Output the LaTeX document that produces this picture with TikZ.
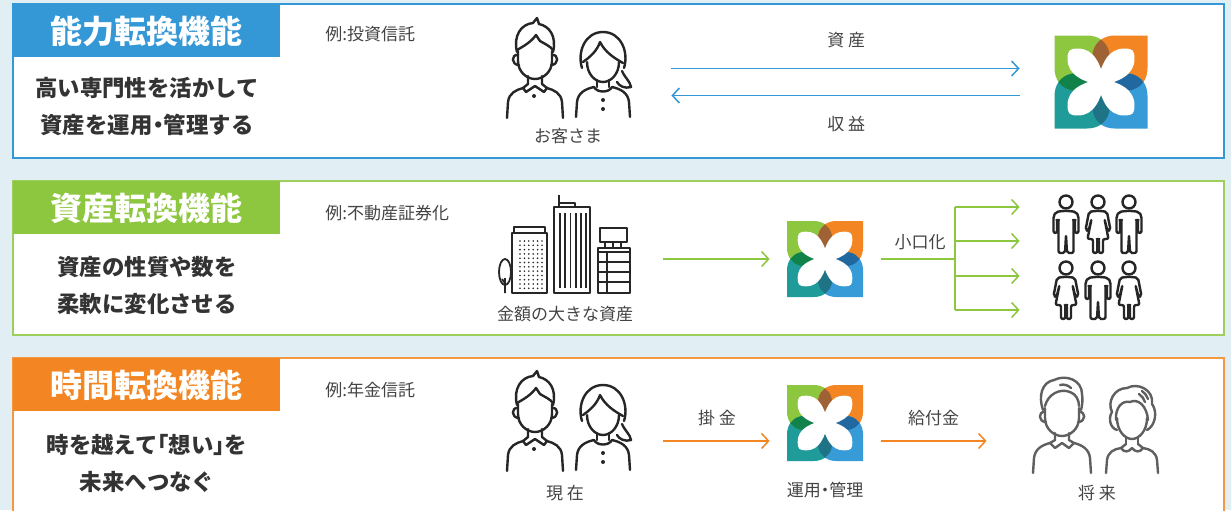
\documentclass[tikz,border=0pt]{standalone}
\usepackage{fontspec}
\setmainfont{Noto Sans CJK JP}
\usetikzlibrary{arrows.meta,positioning}
\definecolor{backdrop}{RGB}{225,238,243}
\definecolor{kblue}{RGB}{52,152,214}
\definecolor{kgreen}{RGB}{141,198,63}
\definecolor{korange}{RGB}{243,134,34}
\definecolor{leadtext}{RGB}{51,51,51}
\definecolor{labeltext}{RGB}{68,68,68}
\definecolor{ink}{RGB}{38,38,38}
\definecolor{inkgray}{RGB}{95,95,95}
\definecolor{leafgreen}{RGB}{141,198,63}
\definecolor{leaforange}{RGB}{243,134,34}
\definecolor{leafteal}{RGB}{31,156,153}
\definecolor{leafblue}{RGB}{55,155,215}
\definecolor{mixbrown}{RGB}{158,98,52}
\definecolor{mixgreen}{RGB}{18,130,75}
\definecolor{mixblue}{RGB}{34,104,160}
\definecolor{mixteal}{RGB}{30,115,135}

\tikzset{
  panel/.style={fill=white, line width=0.8pt},
  header/.style={anchor=north west, inner sep=0pt, minimum width=133.5pt, minimum height=26.5pt,
    text=white, font=\bfseries\fontsize{16pt}{18pt}\selectfont},
  lead/.style={align=center, text=leadtext, font=\bfseries\fontsize{11.2pt}{18.5pt}\selectfont},
  lbl/.style={inner sep=0pt, text=labeltext, font=\fontsize{8.5pt}{10pt}\selectfont},
  spot/.style={inner sep=0pt},
  flow/.style={line width=0.75pt, -{Straight Barb[length=3.5pt,width=7.5pt]}},
  icon/.style={line width=1.2pt, line cap=round, line join=round},
  figure/.style={draw=ink, fill=white, line width=1.2pt, line join=round},
}

% proportional width for brackets and middle dots
\newcommand{\tight}[1]{{\addfontfeatures{RawFeature=+palt}#1}}

% one leaf of the logo (top left), and the white petal cut out of it
\newcommand{\leafpath}{(-1,1) -- (-0.3,1) .. controls (0.2,1) and (0.35,0.45) .. (0,0) .. controls (-0.45,-0.35) and (-1,-0.2) .. (-1,0.3) -- cycle}
\newcommand{\holepath}{(-0.72,0.5) .. controls (-0.72,0.68) and (-0.68,0.72) .. (-0.5,0.72) .. controls (-0.15,0.72) and (0,0.4) .. (0.1,-0.1) .. controls (-0.4,0) and (-0.72,0.15) .. (-0.72,0.5) -- cycle}

\newcommand{\fundlogo}[2]{%
  \begin{scope}[shift={(#1)}, scale=#2, yscale=-1]
    \fill[leafgreen] \leafpath;
    \fill[leaforange, rotate=90] \leafpath;
    \fill[leafblue, rotate=180] \leafpath;
    \fill[leafteal, rotate=-90] \leafpath;
    % where two leaves overlap
    \begin{scope}\clip \leafpath; \fill[mixbrown, rotate=90] \leafpath; \end{scope}
    \begin{scope}\clip[rotate=90] \leafpath; \fill[mixblue, rotate=180] \leafpath; \end{scope}
    \begin{scope}\clip[rotate=180] \leafpath; \fill[mixteal, rotate=-90] \leafpath; \end{scope}
    \begin{scope}\clip[rotate=-90] \leafpath; \fill[mixgreen] \leafpath; \end{scope}
    \foreach \a in {0,90,180,270} \fill[white, rotate=\a] \holepath;
  \end{scope}}

% people, drawn around the middle of the face
\newcommand{\manicon}[2]{%
  \begin{scope}[shift={(#1)}, #2, icon]
    \draw (-18,-3) .. controls (-22,-19) and (-14,-31) .. (-2,-32) -- (2,-37) -- (4,-31) .. controls (14,-29) and (22,-19) .. (18,-3);
    \draw (-18,-5) .. controls (-11,-9) and (-4,-13) .. (1,-20) -- (5,-14) .. controls (10,-11) and (15,-9) .. (18,-5);
    \draw (-17,-4) -- (-17,6) .. controls (-17,17) and (-8,24) .. (0,24) .. controls (8,24) and (17,17) .. (17,6) -- (17,-4);
    \draw (-17,0) .. controls (-24,-1) and (-24,10) .. (-16,10);
    \draw (17,0) .. controls (24,-1) and (24,10) .. (16,10);
    \draw (-7,21) -- (-7,29) -- (-12,33) -- (-9,37) -- (0,31) -- (9,37) -- (12,33) -- (7,29) -- (7,21);
    \draw (-28,63) -- (-27,47) .. controls (-26,38) and (-19,35) .. (-12,33);
    \draw (28,63) -- (27,47) .. controls (26,38) and (19,35) .. (12,33);
    \fill (-1,41) circle (2);
  \end{scope}}

\newcommand{\womanicon}[2]{%
  \begin{scope}[shift={(#1)}, #2, icon]
    \draw (-21,8) .. controls (-26,-8) and (-18,-28) .. (0,-28) .. controls (18,-28) and (26,-8) .. (21,8);
    \draw (-20,2) .. controls (-13,-3) and (-6,-9) .. (-3,-18) .. controls (2,-8) and (11,-2) .. (20,3);
    \draw (-16,2) .. controls (-16,14) and (-8,22) .. (0,22) .. controls (8,22) and (16,14) .. (16,2);
    \draw (19,11) .. controls (22,18) and (27,21) .. (28,27) .. controls (22,29) and (16,26) .. (14,22);
    \draw (-6,20) -- (-6,27) (6,20) -- (6,27);
    \draw (-27,57) -- (-26,42) .. controls (-25,33) and (-18,29) .. (-9,27) .. controls (-6,33) and (6,33) .. (9,27) .. controls (18,29) and (25,33) .. (26,42) -- (27,57);
    \fill (0,40) circle (2) (0,49) circle (2);
  \end{scope}}

\newcommand{\oldmanicon}[2]{%
  \begin{scope}[shift={(#1)}, #2, icon]
    \draw (-19,-2) .. controls (-24,-16) and (-20,-30) .. (-8,-32) .. controls (4,-38) and (20,-32) .. (20,-18) .. controls (21,-10) and (20,-6) .. (19,-2);
    \draw (-17,-6) .. controls (-14,-18) and (-2,-24) .. (8,-20) .. controls (14,-18) and (17,-12) .. (17,-6);
    \draw (-2,-27) .. controls (2,-28) and (6,-27) .. (9,-24);
    \draw (-17,-4) -- (-17,6) .. controls (-17,17) and (-8,24) .. (0,24) .. controls (8,24) and (17,17) .. (17,6) -- (17,-4);
    \draw (-17,0) .. controls (-24,-1) and (-24,10) .. (-16,10);
    \draw (17,0) .. controls (24,-1) and (24,10) .. (16,10);
    \draw (-7,21) -- (-7,28) -- (-12,31) -- (-7,36) -- (0,31) -- (7,36) -- (12,31) -- (7,28) -- (7,21);
    \draw (-29,61) -- (-28,46) .. controls (-27,37) and (-20,33) .. (-12,31);
    \draw (29,61) -- (28,46) .. controls (27,37) and (20,33) .. (12,31);
  \end{scope}}

\newcommand{\oldwomanicon}[2]{%
  \begin{scope}[shift={(#1)}, #2, icon]
    \draw (-15,12) .. controls (-22,10) and (-24,0) .. (-20,-6) .. controls (-25,-16) and (-18,-30) .. (-5,-30) .. controls (6,-36) and (22,-28) .. (20,-14) .. controls (26,-6) and (23,8) .. (15,12);
    \draw (-16,2) .. controls (-17,-10) and (-10,-18) .. (-2,-16) .. controls (6,-20) and (15,-12) .. (16,2);
    \draw (-15,0) .. controls (-15,13) and (-7,21) .. (0,21) .. controls (7,21) and (15,13) .. (15,0);
    \draw (7,-24) .. controls (10,-22) and (12,-19) .. (13,-16) (10,-27) .. controls (13,-25) and (15,-22) .. (16,-19);
    \draw (-6,19) -- (-6,26) (6,19) -- (6,26);
    \draw (-6,26) -- (-11,30) .. controls (-8,35) and (-3,34) .. (0,30) .. controls (3,34) and (8,35) .. (11,30) -- (6,26);
    \draw (-26,55) -- (-25,42) .. controls (-24,34) and (-18,31) .. (-11,30);
    \draw (26,55) -- (25,42) .. controls (24,34) and (18,31) .. (11,30);
  \end{scope}}

% small pictograms for the split
\newcommand{\smallman}[1]{%
  \begin{scope}[shift={(#1)}]
    \draw[figure] (0,0) circle (6.5);
    \draw[figure, rounded corners=1pt] (-4,9) -- (-10,10) -- (-12.5,14) -- (-12.5,31) -- (-9,31) -- (-9,18) -- (-7.5,18) -- (-7.5,51) -- (-1,51) -- (0,33) -- (1,51) -- (7.5,51) -- (7.5,18) -- (9,18) -- (9,31) -- (12.5,31) -- (12.5,14) -- (10,10) -- (4,9) -- cycle;
  \end{scope}}
\newcommand{\smallwoman}[1]{%
  \begin{scope}[shift={(#1)}]
    \draw[figure] (0,0) circle (6.5);
    \draw[figure, rounded corners=1pt] (-4,9) -- (-9,10) -- (-12.5,28) -- (-9.5,29) -- (-6.5,17) -- (-10.5,37) -- (-5,37) -- (-5,51) -- (-0.8,51) -- (-0.8,37) -- (0.8,37) -- (0.8,51) -- (5,51) -- (5,37) -- (10.5,37) -- (6.5,17) -- (9.5,29) -- (12.5,28) -- (9,10) -- (4,9) -- cycle;
  \end{scope}}

\begin{document}
\begin{tikzpicture}[x=0.5pt, y=-0.5pt]

    \clip (0,0) rectangle (1231,510);
    \fill[backdrop] (0,0) rectangle (1231,510);

    \draw[panel, draw=kblue] (13,4) rectangle (1224,158);
    \draw[panel, draw=kgreen!85] (13,181) rectangle (1224,335);
    \draw[panel, draw=korange!85] (13,358) rectangle (1224,530);

    \node[header, fill=kblue] (head1) at (13,4) {能力転換機能};
    \node[header, fill=kgreen] (head2) at (13,181) {資産転換機能};
    \node[header, fill=korange] (head3) at (13,358) {時間転換機能};

    \node[lead] (lead1) at (147,106.5) {高い専門性を活かして\\資産を運用\tight{・}管理する};
    \node[lead] (lead2) at (147,285) {資産の性質や数を\\柔軟に変化させる};
    \node[lead] (lead3) at (147,463.5) {時を越えて\tight{「}想い\tight{」}を\\未来へつなぐ};

    \node[lbl, anchor=west] (ex1) at (325,34) {例:投資信託};
    \node[lbl, anchor=west] (ex2) at (325,213) {例:不動産証券化};
    \node[lbl, anchor=west] (ex3) at (325,390) {例:年金信託};

    % capability conversion
    \node[spot, minimum width=70pt, minimum height=50pt] (clients) at (568,82) {};
    \manicon{535,55}{ink}
    \womanicon{603,60}{ink}
    \node[lbl] (clientsname) at (568,136) {お客さま};

    \node[spot, minimum size=46.5pt] (fund1) at (1101,82) {};
    \fundlogo{fund1.center}{46.5}

    \draw[flow, kblue, shorten <=16.5pt, shorten >=17.25pt] ([yshift=6.75pt]clients.east) -- node[lbl, above=10pt] {資 産} ([yshift=6.75pt]fund1.west);
    \draw[flow, kblue, shorten <=17.25pt, shorten >=16.5pt] ([yshift=-6.75pt]fund1.west) -- node[lbl, below=10pt] {収 益} ([yshift=-6.75pt]clients.east);

    % asset conversion
    \node[spot, minimum width=70pt, minimum height=55pt] (assets) at (565,259) {};
    \begin{scope}[ink, line width=0.9pt, line join=round]
        \draw (505,272) ellipse (6 and 13);
        \draw (505,278) -- (505,293) (505,283) -- (502,279);
        \draw (514,227) rectangle (545,233);
        \draw (512,233) rectangle (547,293);
        \foreach \i in {0,...,5}
            \foreach \j in {0,...,11}
                \fill (520+4.4*\i, 241+4.3*\j) circle (0.9);
        \draw (554,207) rectangle (590,293);
        \draw (559,207) -- (559,195) (559,203) -- (575,203) -- (575,207);
        \foreach \i in {0,...,5}
            \draw (560+5.2*\i, 213) -- (560+5.2*\i, 288);
        \draw (600,228) rectangle (627,242);
        \foreach \x in {605,613,621}
            \draw (\x,242) -- (\x,248);
        \draw (598,248) rectangle (630,293);
        \draw (598,252) -- (630,252);
        \foreach \y in {262,272,282}
            \draw (598,\y) -- (630,\y);
        \draw (607,252) -- (607,293);
    \end{scope}
    \node[lbl] (assetsname) at (565,314) {金額の大きな資産};

    \node[spot, minimum size=38pt] (fund2) at (825,259) {};
    \fundlogo{fund2.center}{38}
    \draw[flow, kgreen, shorten <=14pt, shorten >=8.5pt] (assets.east) -- (fund2.west);

    \coordinate (fork) at (955,259);
    \node[spot, minimum width=50pt, minimum height=68pt] (crowd) at (1097,258) {};
    \draw[kgreen, line width=0.75pt, shorten <=9pt] (fund2.east) -- node[lbl, pos=0.62, above=4pt] {小口化} (fork);
    \draw[kgreen, line width=0.75pt] (fork |- 0,207) -- (fork |- 0,310);
    \foreach \y in {207,241,276,310}
        \draw[flow, kgreen, shorten >=13.5pt] (fork |- 0,\y) -- (crowd.west |- 0,\y);

    \smallman{1066,202}
    \smallwoman{1098,202}
    \smallman{1129,202}
    \smallwoman{1066,268}
    \smallman{1098,268}
    \smallwoman{1129,268}

    % time conversion
    \node[spot, minimum width=70pt, minimum height=50pt] (present) at (568,441) {};
    \manicon{535,408}{ink}
    \womanicon{603,413}{ink}
    \node[lbl] (presentname) at (565,493) {現 在};

    \node[spot, minimum size=38pt] (fund3) at (825,423) {};
    \fundlogo{fund3.center}{38}
    \node[lbl, below=10pt of fund3] (fund3name) {運用\tight{・}管理};

    \node[spot, minimum width=70pt, minimum height=50pt] (future) at (1097,441) {};
    \oldmanicon{1062,412}{inkgray}
    \oldwomanicon{1132,418}{inkgray}
    \node[lbl] (futurename) at (1097,493) {将 来};

    \draw[flow, korange, shorten <=12.5pt, shorten >=8.5pt] (present.east) -- node[lbl, pos=0.53, above=7pt] {掛 金} (present.east -| fund3.west);
    \draw[flow, korange, shorten <=9pt, shorten >=20pt] (fund3.east |- future.west) -- node[lbl, pos=0.43, above=7pt] {給付金} (future.west);

\end{tikzpicture}
\end{document}
